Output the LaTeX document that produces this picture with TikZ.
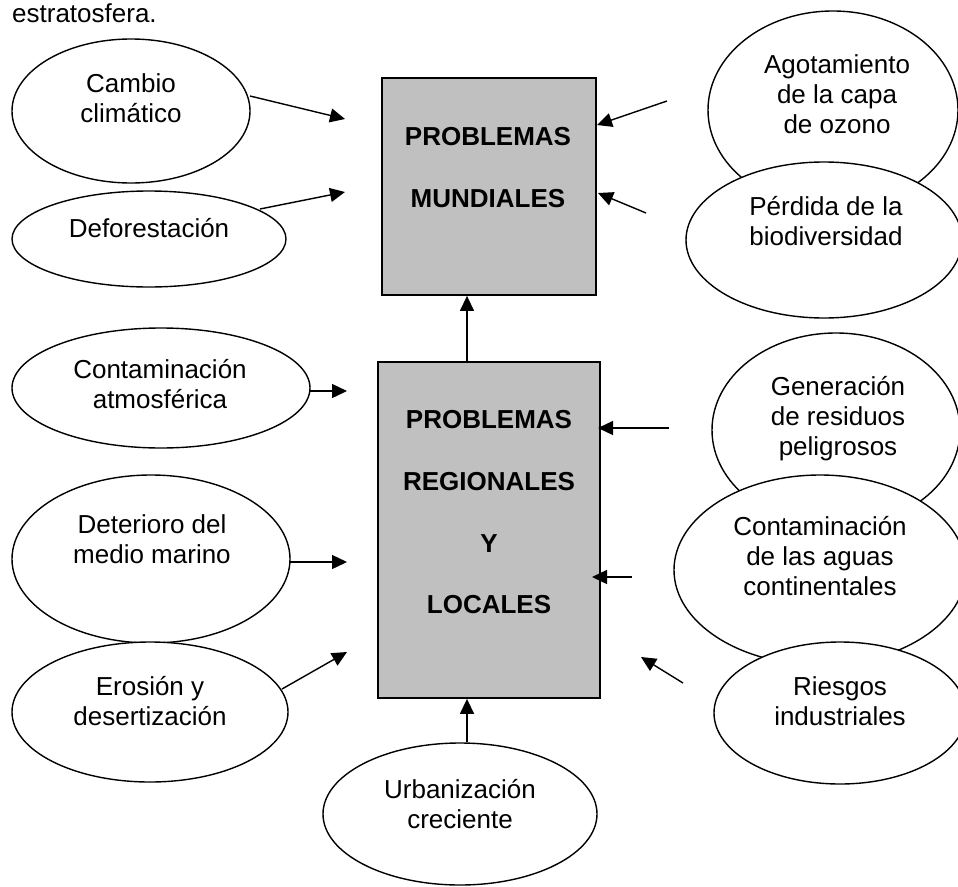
\documentclass[tikz,border=0pt]{standalone}
\usepackage{fontspec}
\setmainfont{Liberation Sans}
\usetikzlibrary{shapes.geometric,arrows.meta}
\definecolor{boxgray}{RGB}{192,192,192}
\begin{document}
\begin{tikzpicture}[x=1pt,y=-1pt,
 ell/.style={ellipse,draw,fill=white,line width=1.4pt,inner sep=0},
 box/.style={rectangle,draw,fill=boxgray,line width=1.8pt,inner sep=0},
 lbl/.style={inner sep=0,align=center,anchor=base,font=\fontsize{26}{30}\selectfont},
 blbl/.style={inner sep=0,anchor=base,font=\fontsize{26}{30}\selectfont\bfseries},
 arr/.style={line width=1.4pt,-{Triangle[length=15pt,width=14pt]}}]
\useasboundingbox (0,0) rectangle (958,886);
\clip (0,0) rectangle (958,886);
% title
\node[inner sep=0,anchor=base west,font=\fontsize{26}{30}\selectfont] (title) at (12,23) {estratosfera.};
% boxes
\node[box,minimum width=214pt,minimum height=217pt] (box1) at (489,186.5) {};
\node[box,minimum width=222pt,minimum height=336pt] (box2) at (489,530) {};
\node[blbl] (b1a) at (488,145) {PROBLEMAS};
\node[blbl] (b1b) at (488,207) {MUNDIALES};
\node[blbl] (b2a) at (489,428) {PROBLEMAS};
\node[blbl] (b2b) at (489,490) {REGIONALES};
\node[blbl] (b2c) at (489,552) {Y};
\node[blbl] (b2d) at (489,613) {LOCALES};
% ellipses
\node[ell,minimum width=238pt,minimum height=144pt] (cambio) at (131,111) {};
\node[ell,minimum width=274pt,minimum height=96pt] (defor) at (149,239) {};
\node[ell,minimum width=250pt,minimum height=198pt] (agot) at (833,110) {};
\node[ell,minimum width=276pt,minimum height=156pt] (perd) at (824,240) {};
\node[ell,minimum width=298pt,minimum height=120pt] (contatm) at (161,388) {};
\node[ell,minimum width=278pt,minimum height=168pt] (deter) at (151,559) {};
\node[ell,minimum width=276pt,minimum height=140pt] (eros) at (150,712) {};
\node[ell,minimum width=248pt,minimum height=194pt] (gener) at (836,430) {};
\node[ell,minimum width=292pt,minimum height=190pt] (aguas) at (820,570) {};
\node[ell,minimum width=252pt,minimum height=142pt] (riesgos) at (840,713) {};
\node[ell,minimum width=274pt,minimum height=142pt] (urban) at (460,814) {};
% labels (anchor base = baseline of the last line)
\node[lbl] (tcambio) at (131,122) {Cambio\\climático};
\node[lbl] (tdefor) at (149,237) {Deforestación};
\node[lbl] (tagot) at (837,133) {Agotamiento\\de la capa\\de ozono};
\node[lbl] (tperd) at (826,245) {Pérdida de la\\biodiversidad};
\node[lbl] (tcontatm) at (160,408) {Contaminación\\atmosférica};
\node[lbl] (tdeter) at (152,563) {Deterioro del\\medio marino};
\node[lbl] (teros) at (150,725) {Erosión y\\desertización};
\node[lbl] (tgener) at (838,455) {Generación\\de residuos\\peligrosos};
\node[lbl] (taguas) at (820,595) {Contaminación\\de las aguas\\continentales};
\node[lbl] (triesgos) at (840,725) {Riesgos\\industriales};
\node[lbl] (turban) at (460,828) {Urbanización\\creciente};
% arrow end points
\coordinate (s1) at (250,96);  \coordinate (e1) at (345,119);
\coordinate (s2) at (260,209); \coordinate (e2) at (345,192);
\coordinate (s3) at (667,101); \coordinate (e3) at (597,125);
\coordinate (s4) at (646,213); \coordinate (e4) at (598,193);
\coordinate (s5) at (310,391); \coordinate (e5) at (347,391);
\coordinate (s6) at (289,562); \coordinate (e6) at (347,562);
\coordinate (s7) at (282,689); \coordinate (e7) at (347,652);
\coordinate (s8) at (669,428); \coordinate (e8) at (598,428);
\coordinate (s9) at (632,577); \coordinate (e9) at (592,577);
\coordinate (s10) at (683,683); \coordinate (e10) at (641,657);
\coordinate (vx) at (467,0);
% arrows
\draw[arr] (s1) -- (e1);
\draw[arr] (s2) -- (e2);
\draw[arr] (s3) -- (e3);
\draw[arr] (s4) -- (e4);
\draw[arr] (s5) -- (e5);
\draw[arr] (s6) -- (e6);
\draw[arr] (s7) -- (e7);
\draw[arr] (s8) -- (e8);
\draw[arr] (s9) -- (e9);
\draw[arr] (s10) -- (e10);
\draw[arr] (box2.north -| vx) -- (box1.south -| vx);
\draw[arr] (urban.north -| vx) -- (box2.south -| vx);
\end{tikzpicture}
\end{document}
